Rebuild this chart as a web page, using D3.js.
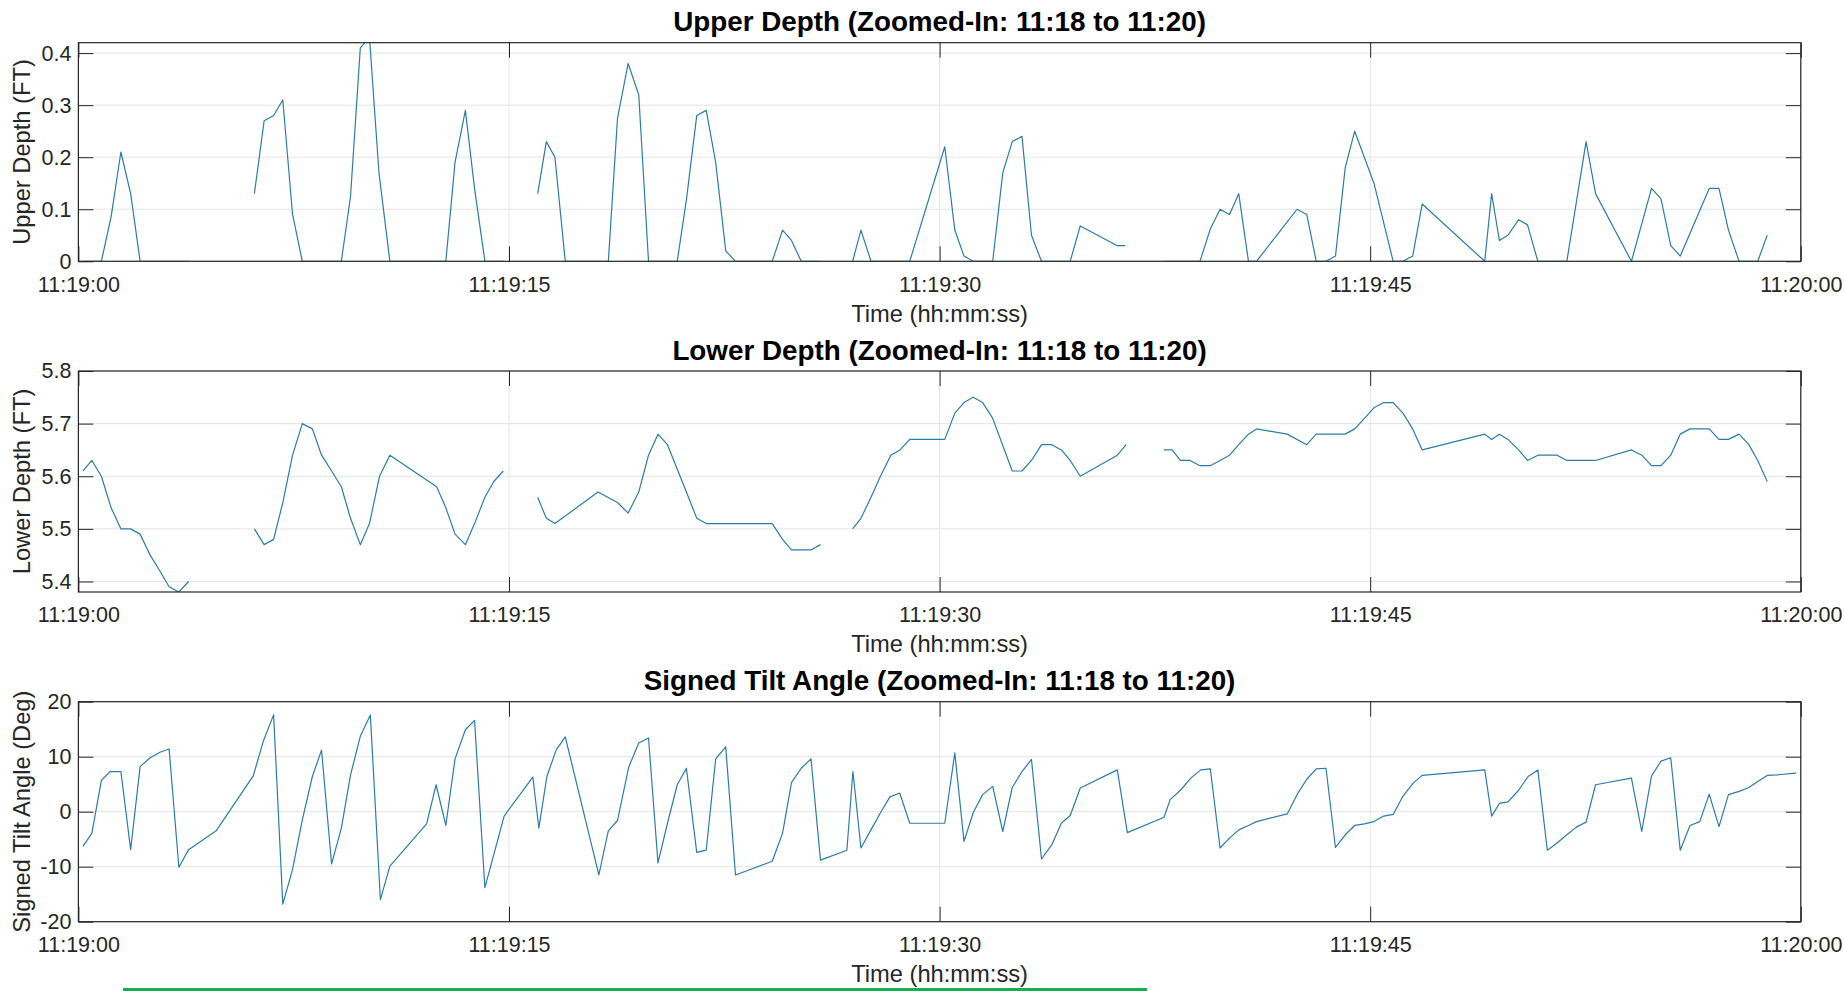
<!DOCTYPE html>
<html>
<head>
<meta charset="utf-8">
<script src="https://cdn.jsdelivr.net/npm/d3@7"></script>
<style>
  body { margin: 0; background: #fff; }
  svg { display: block; font-family: "Liberation Sans", Arial, Helvetica, sans-serif; }
</style>
</head>
<body>
<svg width="1844" height="991"></svg>
<script>
// time ticks (hh:mm:ss) shared by all three panels
var timeTicks = ["11:19:00", "11:19:15", "11:19:30", "11:19:45", "11:20:00"];

var titles = [
  "Upper Depth (Zoomed-In: 11:18 to 11:20)",
  "Lower Depth (Zoomed-In: 11:18 to 11:20)",
  "Signed Tilt Angle (Zoomed-In: 11:18 to 11:20)"
];
var yLabels = ["Upper Depth (FT)", "Lower Depth (FT)", "Signed Tilt Angle (Deg)"];
var xLabel = "Time (hh:mm:ss)";

// y ticks / limits
var upperTicks = [0, 0.1, 0.2, 0.3, 0.4];
var upperDomain = [0, 0.42];
var lowerTicks = [5.4, 5.5, 5.6, 5.7, 5.8];
var lowerDomain = [5.38, 5.8];
var tiltTicks = [-20, -10, 0, 10, 20];
var tiltDomain = [-20, 20];

// seconds after 11:19:00, null = missing sample (line break)
var upperT = [0.16, 0.8, 1.14, 1.48, 1.82, 2.15, 3.84, 5.0, 6.13, 6.47, 6.8, 7.12, 7.46, 7.8, 9.16, 9.48, 9.82, 10.14, 10.47, 10.85,
  12.8, 13.12, 13.48, 13.8, 14.16, 14.83, 15.4, 16.0, 16.3, 16.6, 16.96, 18.46, 18.78, 19.15, 19.52, 19.86, 20.86, 21.18, 21.54, 21.87,
  22.2, 22.55, 22.89, 24.17, 24.53, 24.84, 25.18, 25.85, 26.4, 26.97, 27.26, 27.61, 28.96, 30.18, 30.53, 30.85, 31.17, 31.85, 32.2, 32.53,
  32.87, 33.2, 33.55, 34.55, 34.9, 36.19, 36.47, 37.1, 37.82, 39.07, 39.43, 39.77, 40.1, 40.42, 40.76, 41.04, 42.45, 42.79, 43.12, 43.46,
  43.79, 44.13, 44.46, 45.13, 45.8, 46.14, 46.48, 46.81, 48.99, 49.23, 49.5, 49.8, 50.17, 50.48, 50.84, 51.85, 52.52, 52.85, 54.1, 54.8,
  55.13, 55.47, 55.8, 56.81, 57.15, 57.48, 57.85, 58.5, 58.83];
var upperV = [0, 0, 0.086, 0.21, 0.13, 0, 0, null, 0.13, 0.27, 0.28, 0.31, 0.09, 0, 0, 0.125, 0.41, 0.43, 0.17, 0,
  0, 0.19, 0.29, 0.14, 0, 0, null, 0.13, 0.23, 0.2, 0, 0, 0.275, 0.38, 0.32, 0, 0, 0.118, 0.28, 0.29,
  0.19, 0.02, 0, 0, 0.06, 0.04, 0, 0, null, 0, 0.06, 0, 0, 0.22, 0.06, 0.01, 0, 0, 0.17, 0.23,
  0.24, 0.05, 0, 0, 0.068, 0.03, 0.03, null, 0, 0, 0.062, 0.1, 0.09, 0.13, 0, 0, 0.1, 0.09, 0, 0,
  0.01, 0.18, 0.25, 0.15, 0, 0, 0.01, 0.11, 0, 0.13, 0.04, 0.05, 0.08, 0.07, 0, 0, 0.23, 0.13, 0, 0.14,
  0.12, 0.03, 0.01, 0.14, 0.14, 0.06, 0, 0, 0.05];

var lowerT = [0.16, 0.47, 0.8, 1.14, 1.48, 1.82, 2.15, 2.5, 2.84, 3.16, 3.5, 3.84, 5.0, 6.13, 6.47, 6.8, 7.12, 7.46, 7.8, 8.15,
  8.47, 8.82, 9.16, 9.48, 9.82, 10.14, 10.49, 10.85, 12.48, 12.8, 13.12, 13.48, 13.8, 14.16, 14.47, 14.8, 15.4, 16.0, 16.3, 16.6,
  18.1, 18.78, 19.15, 19.52, 19.86, 20.19, 20.52, 21.18, 21.54, 21.87, 24.17, 24.53, 24.84, 25.52, 25.85, 26.4, 26.97, 27.26, 27.61, 27.94,
  28.3, 28.62, 28.96, 30.18, 30.53, 30.85, 31.17, 31.5, 31.85, 32.53, 32.87, 33.2, 33.55, 33.91, 34.24, 34.55, 34.9, 36.19, 36.5, 37.1,
  37.82, 38.1, 38.39, 38.72, 39.07, 39.43, 39.77, 40.1, 40.42, 40.76, 41.04, 42.11, 42.79, 43.12, 44.13, 44.46, 44.8, 45.13, 45.47, 45.8,
  46.14, 46.48, 46.81, 48.99, 49.23, 49.5, 49.8, 50.17, 50.48, 50.84, 51.51, 51.85, 52.85, 54.1, 54.46, 54.8, 55.13, 55.47, 55.8, 56.14,
  56.81, 57.15, 57.48, 57.85, 58.19, 58.5, 58.83];
var lowerV = [5.61, 5.63, 5.60, 5.54, 5.50, 5.50, 5.49, 5.45, 5.42, 5.39, 5.38, 5.40, null, 5.50, 5.47, 5.48, 5.55, 5.64, 5.70, 5.69,
  5.64, 5.61, 5.58, 5.52, 5.47, 5.51, 5.60, 5.64, 5.58, 5.54, 5.49, 5.47, 5.51, 5.56, 5.59, 5.61, null, 5.56, 5.52, 5.51,
  5.57, 5.55, 5.53, 5.57, 5.64, 5.68, 5.66, 5.57, 5.52, 5.51, 5.51, 5.48, 5.46, 5.46, 5.47, null, 5.50, 5.52, 5.56, 5.60,
  5.64, 5.65, 5.67, 5.67, 5.72, 5.74, 5.75, 5.74, 5.71, 5.61, 5.61, 5.63, 5.66, 5.66, 5.65, 5.63, 5.60, 5.64, 5.66, null,
  5.65, 5.65, 5.63, 5.63, 5.62, 5.62, 5.63, 5.64, 5.66, 5.68, 5.69, 5.68, 5.66, 5.68, 5.68, 5.69, 5.71, 5.73, 5.74, 5.74,
  5.72, 5.69, 5.65, 5.68, 5.67, 5.68, 5.67, 5.65, 5.63, 5.64, 5.64, 5.63, 5.63, 5.65, 5.64, 5.62, 5.62, 5.64, 5.68, 5.69,
  5.69, 5.67, 5.67, 5.68, 5.66, 5.63, 5.59];

var tiltT = [0.16, 0.47, 0.8, 1.11, 1.48, 1.82, 2.15, 2.5, 2.84, 3.16, 3.5, 3.84, 4.81, 6.09, 6.44, 6.8, 7.12, 7.46, 7.8, 8.15,
  8.47, 8.82, 9.16, 9.48, 9.82, 10.17, 10.52, 10.85, 12.13, 12.46, 12.8, 13.12, 13.48, 13.8, 14.16, 14.47, 14.83, 15.83, 16.04, 16.32,
  16.64, 16.96, 18.13, 18.46, 18.78, 19.17, 19.52, 19.86, 20.19, 20.52, 20.86, 21.18, 21.54, 21.87, 22.2, 22.55, 22.89, 24.17, 24.53, 24.84,
  25.18, 25.52, 25.85, 26.77, 26.98, 27.26, 27.61, 27.94, 28.27, 28.61, 28.96, 30.18, 30.53, 30.85, 31.17, 31.5, 31.85, 32.2, 32.53, 32.87,
  33.2, 33.55, 33.91, 34.24, 34.55, 34.9, 36.19, 36.54, 37.82, 38.03, 38.39, 38.75, 39.1, 39.43, 39.77, 40.1, 40.42, 40.76, 41.04, 42.11,
  42.45, 42.79, 43.12, 43.46, 43.79, 44.13, 44.46, 44.8, 45.13, 45.47, 45.8, 46.14, 46.48, 46.81, 48.99, 49.23, 49.5, 49.8, 50.17, 50.5,
  50.84, 51.17, 51.51, 51.85, 52.18, 52.52, 52.85, 54.1, 54.46, 54.8, 55.13, 55.47, 55.8, 56.14, 56.48, 56.81, 57.15, 57.48, 57.85, 58.19,
  58.5, 58.83, 59.16, 59.83];
var tiltV = [-6.3, -3.9, 5.7, 7.3, 7.3, -6.9, 8.2, 9.8, 10.8, 11.4, -10.1, -6.9, -3.4, 6.5, 12.8, 17.6, -16.8, -10.5, -1.5, 6.4,
  11.2, -9.5, -3.0, 6.7, 13.7, 17.6, -16.0, -9.9, -2.2, 4.9, -2.5, 9.6, 14.9, 16.6, -13.8, -7.8, -0.8, 6.3, -3.0, 6.4,
  11.2, 13.6, -11.5, -3.5, -1.6, 8.1, 12.5, 13.4, -9.3, -2.1, 4.9, 7.9, -7.4, -7.0, 9.6, 11.8, -11.5, -9.0, -3.9, 5.3,
  7.9, 9.6, -8.8, -7.0, 7.3, -6.6, -3.3, -0.2, 2.7, 3.4, -2.1, -2.1, 10.7, -5.4, -0.2, 3.1, 4.6, -3.6, 4.4, 7.3,
  9.5, -8.6, -6.0, -2.1, -0.7, 4.3, 7.6, -3.8, -1.0, 2.2, 3.9, 6.1, 7.6, 7.8, -6.6, -4.8, -3.3, -2.5, -1.8, -0.4,
  3.1, 5.9, 7.8, 7.9, -6.5, -4.2, -2.5, -2.2, -1.8, -0.8, -0.5, 2.8, 5.1, 6.6, 7.6, -0.8, 1.5, 1.8, 3.9, 6.4,
  7.6, -7.0, -5.7, -4.2, -2.8, -1.9, 4.9, 6.1, -3.6, 6.5, 9.2, 9.8, -7.0, -2.5, -1.8, 3.2, -2.7, 3.1, 3.7, 4.4,
  5.5, 6.6, 6.7, 7.0];

var svg = d3.select("svg"),
  left = 78.4,
  right = 1800.8,
  tickLen = 15,
  lineColor = "#2c7cab",
  axisColor = "#262626";

var parseTime = d3.timeParse("%H:%M:%S"),
  fmtTime = d3.timeFormat("%H:%M:%S"),
  t0 = parseTime(timeTicks[0]),
  xTicks = timeTicks.map(parseTime);

function toDate(s) { return new Date(t0.getTime() + s * 1000); }

var x = d3.scaleTime()
  .domain([xTicks[0], xTicks[xTicks.length - 1]])
  .range([left, right]);

var panels = [
  { t: upperT, v: upperV, ticks: upperTicks, domain: upperDomain, top: 42.7, bottom: 261.3 },
  { t: lowerT, v: lowerV, ticks: lowerTicks, domain: lowerDomain, top: 371, bottom: 592 },
  { t: tiltT, v: tiltV, ticks: tiltTicks, domain: tiltDomain, top: 701.7, bottom: 921.7 }
];

function cleanAxis(sel) {
  sel.attr("font-size", null).attr("font-family", null).attr("color", axisColor);
  sel.select(".domain").remove();
}

panels.forEach(function(p, i) {
  var y = d3.scaleLinear().domain(p.domain).range([p.bottom, p.top]);
  var g = svg.append("g");

  svg.append("clipPath").attr("id", "clip" + i)
    .append("rect")
    .attr("x", left).attr("y", p.top)
    .attr("width", right - left).attr("height", p.bottom - p.top);

  // grid
  g.append("g").selectAll("line")
    .data(p.ticks)
    .enter().append("line")
    .attr("x1", left).attr("x2", right)
    .attr("y1", function(d) { return y(d); })
    .attr("y2", function(d) { return y(d); })
    .attr("stroke", "#e4e4e4");

  g.append("g").selectAll("line")
    .data(xTicks)
    .enter().append("line")
    .attr("x1", function(d) { return x(d); })
    .attr("x2", function(d) { return x(d); })
    .attr("y1", p.top).attr("y2", p.bottom)
    .attr("stroke", "#e4e4e4");

  // data line
  var line = d3.line()
    .defined(function(d) { return d[1] != null; })
    .x(function(d) { return x(toDate(d[0])); })
    .y(function(d) { return y(d[1]); });

  g.append("path")
    .datum(d3.zip(p.t, p.v))
    .attr("clip-path", "url(#clip" + i + ")")
    .attr("fill", "none")
    .attr("stroke", lineColor)
    .attr("stroke-width", 1.2)
    .attr("stroke-linejoin", "round")
    .attr("d", line);

  // box
  g.append("rect")
    .attr("x", left).attr("y", p.top)
    .attr("width", right - left).attr("height", p.bottom - p.top)
    .attr("fill", "none")
    .attr("stroke", axisColor)
    .attr("stroke-width", 1.2);

  // axes, ticks pointing in
  var xb = g.append("g")
    .attr("transform", "translate(0," + p.bottom + ")")
    .call(d3.axisBottom(x).tickValues(xTicks).tickFormat(fmtTime)
      .tickSizeInner(-tickLen).tickSizeOuter(0).tickPadding(15));
  cleanAxis(xb);
  xb.selectAll("text").attr("font-size", 21.5);

  var xt = g.append("g")
    .attr("transform", "translate(0," + p.top + ")")
    .call(d3.axisTop(x).tickValues(xTicks).tickFormat("")
      .tickSizeInner(-tickLen).tickSizeOuter(0));
  cleanAxis(xt);

  var yl = g.append("g")
    .attr("transform", "translate(" + left + ",0)")
    .call(d3.axisLeft(y).tickValues(p.ticks).tickFormat(function(d) { return String(d); })
      .tickSizeInner(-tickLen).tickSizeOuter(0).tickPadding(7));
  cleanAxis(yl);
  yl.selectAll("text").attr("font-size", 21.5);

  var yr = g.append("g")
    .attr("transform", "translate(" + right + ",0)")
    .call(d3.axisRight(y).tickValues(p.ticks).tickFormat("")
      .tickSizeInner(-tickLen).tickSizeOuter(0));
  cleanAxis(yr);

  // labels
  g.append("text")
    .attr("x", (left + right) / 2)
    .attr("y", p.top - 11.5)
    .attr("text-anchor", "middle")
    .attr("font-size", 27.8)
    .attr("font-weight", "bold")
    .attr("fill", "#000")
    .text(titles[i]);

  g.append("text")
    .attr("x", (left + right) / 2)
    .attr("y", p.bottom + 60.3)
    .attr("text-anchor", "middle")
    .attr("font-size", 23.7)
    .attr("fill", axisColor)
    .text(xLabel);

  g.append("text")
    .attr("transform", "translate(30," + (p.top + p.bottom) / 2 + ")rotate(-90)")
    .attr("text-anchor", "middle")
    .attr("font-size", 23.7)
    .attr("fill", axisColor)
    .text(yLabels[i]);
});

// green strip at the bottom edge of the screenshot
svg.append("rect")
  .attr("x", 123).attr("y", 988)
  .attr("width", 1024).attr("height", 3)
  .attr("fill", "#14b04c");
</script>
</body>
</html>
